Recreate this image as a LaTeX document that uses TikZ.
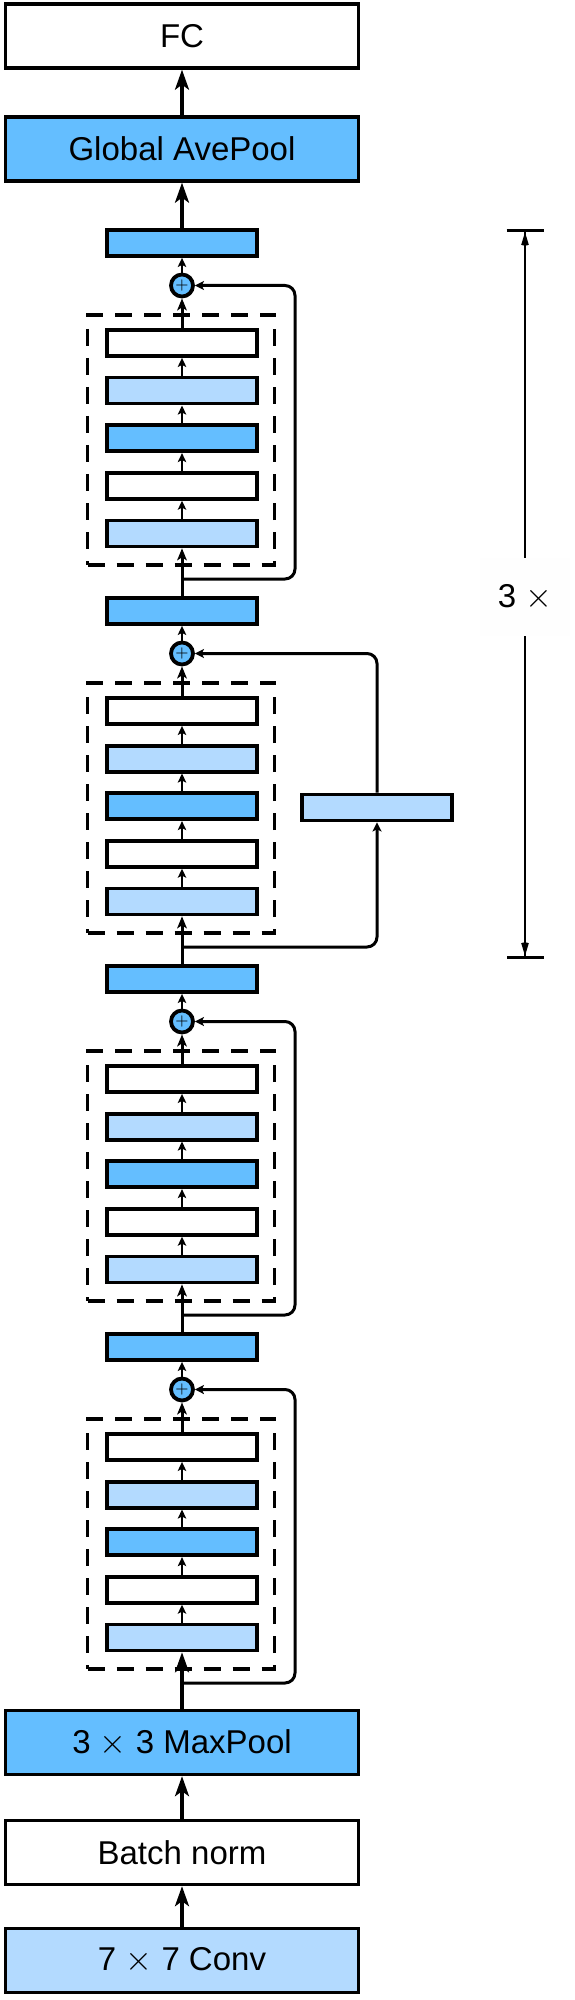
\documentclass[tikz,border=0pt]{standalone}
\usepackage{fontspec}
\setmainfont{Liberation Sans}
\usepackage{amsmath}
\usepackage{xcolor}
\usepackage{tikz}
\usetikzlibrary{arrows.meta}
\definecolor{dblue}{RGB}{100,190,255}
\definecolor{lblue}{RGB}{179,218,255}

\begin{document}
\begin{tikzpicture}[x=0.5pt, y=-0.5pt,
        big/.style={draw, line width=1.7pt, minimum width=176.5pt, minimum height=32pt, inner sep=0pt, font=\fontsize{16.5}{20}\selectfont},
        layer/.style={draw, line width=1.9pt, minimum width=75pt, minimum height=13pt, inner sep=0pt},
        plus/.style={draw, circle, line width=1.9pt, fill=dblue, minimum size=11pt, inner sep=0pt, font=\fontsize{8}{8}\selectfont},
        group/.style={draw, dash pattern=on 8.5pt off 6pt, line width=1.7pt, minimum width=93.5pt, minimum height=125pt},
        bigarr/.style={line width=1.6pt, -{Stealth[length=10pt, width=7pt, inset=2.5pt]}},
        midarr/.style={line width=1.5pt, -{Stealth[length=6pt, width=4.8pt, inset=1.5pt]}},
        smallarr/.style={line width=1.3pt, -{Stealth[length=4.5pt, width=4.2pt, inset=1pt]}},
        skiparr/.style={line width=1.5pt, rounded corners=5pt, -{Stealth[length=4.5pt, width=4.5pt, inset=1pt]}},
        dimarr/.style={line width=1.2pt, -{Stealth[length=15pt, width=9pt, inset=10pt] Bar[width=18.5pt, line width=1.6pt]}}]
            \useasboundingbox (0,0) rectangle (574,2000);
            \node [big] (fc) at (182,36) {FC};
            \node [big, fill=dblue] (gap) at (182,149) {Global AvePool};
            \node [big, fill=dblue] (pool) at (182,1742.5) {3 $\times$ 3 MaxPool};
            \node [big] (bn) at (182,1852.5) {Batch norm};
            \node [big, fill=lblue] (conv) at (182,1960.5) {7 $\times$ 7 Conv};
            \foreach \blk in {1,...,4} {
                \pgfmathsetmacro\ty{228+368*(\blk-1)}
                \node [layer, fill=dblue] (o\blk) at (182,\ty+15) {};
                \node [plus] (add\blk) at (182,\ty+57.5) {$+$};
                \node [group] (grp\blk) at (181,\ty+212) {};
                \foreach \lay/\col in {1/white, 2/lblue, 3/dblue, 4/white, 5/lblue}
                    \node [layer, fill=\col] (l\blk-\lay) at (182,\ty+67.4+47.6*\lay) {};
                \coordinate (sk\blk) at (182,\ty+351);
                \foreach \lay in {1,...,4} {
                    \pgfmathtruncatemacro\nxt{\lay+1}
                    \draw [smallarr] (l\blk-\nxt) -- (l\blk-\lay);
                }
                \draw [midarr] (l\blk-1) -- (add\blk);
                \draw [smallarr] (add\blk) -- (o\blk);
            }
            \node [layer, fill=lblue] (side) at (377,807.5) {};
            \foreach \blk/\src/\st in {1/o2/midarr, 2/o3/midarr, 3/o4/midarr, 4/pool/bigarr}
                \draw [\st] (\src) -- (l\blk-5);
            \foreach \blk in {1,3,4}
                \draw [skiparr] (sk\blk) -- ++(113,0) |- (add\blk);
            \draw [skiparr] (sk2) -| (side);
            \draw [skiparr] (side) |- (add2);
            \draw [bigarr] (conv) -- (bn);
            \draw [bigarr] (bn) -- (pool);
            \draw [bigarr] (o1) -- (gap);
            \draw [bigarr] (gap) -- (fc);
            \node [fill=black!0.5, minimum width=45pt, minimum height=39pt, font=\fontsize{16.5}{20}\selectfont] (rep) at (525,597) {3 $\times$};
            \coordinate (reptop) at (525,229);
            \coordinate (repbot) at (525,959);
            \draw [dimarr] (rep) -- (reptop);
            \draw [dimarr] (rep) -- (repbot);
        \end{tikzpicture}
\end{document}
